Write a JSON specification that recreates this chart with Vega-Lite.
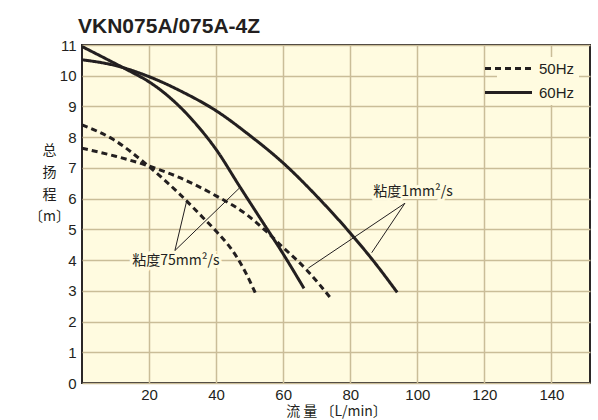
{
  "$schema": "https://vega.github.io/schema/vega-lite/v6.json",
  "width": 508,
  "height": 338,
  "autosize": {"type": "none"},
  "padding": {"left": 82, "top": 45, "right": 8, "bottom": 37},
  "background": "#ffffff",
  "title": {
    "text": "VKN075A/075A-4Z",
    "anchor": "start",
    "frame": "group",
    "font": "Liberation Sans",
    "fontSize": 21,
    "fontWeight": "bold",
    "color": "#231F20",
    "baseline": "bottom",
    "offset": -20,
    "dx": -4
  },
  "config": {
    "view": {"fill": "#FFFBE0", "stroke": "#2b2727", "strokeWidth": 2},
    "axis": {
      "domain": false,
      "ticks": false,
      "labelOverlap": false,
      "grid": true,
      "gridColor": "#CABD98",
      "gridWidth": 1.5,
      "gridOpacity": 1,
      "labelFont": "Liberation Sans",
      "labelFontSize": 15,
      "labelColor": "#231F20",
      "titleFont": "Noto Sans CJK SC",
      "titleFontSize": 14,
      "titleFontWeight": "normal",
      "titleColor": "#231F20"
    }
  },
  "datasets": {
    "curves": [
      {"curve": "A", "freq": "60Hz", "Q": 0, "H": 10.95},
      {"curve": "A", "freq": "60Hz", "Q": 7, "H": 10.56},
      {"curve": "A", "freq": "60Hz", "Q": 13.7, "H": 10.18},
      {"curve": "A", "freq": "60Hz", "Q": 20, "H": 9.8},
      {"curve": "A", "freq": "60Hz", "Q": 25, "H": 9.4},
      {"curve": "A", "freq": "60Hz", "Q": 30, "H": 8.9},
      {"curve": "A", "freq": "60Hz", "Q": 35, "H": 8.3},
      {"curve": "A", "freq": "60Hz", "Q": 40, "H": 7.6},
      {"curve": "A", "freq": "60Hz", "Q": 47, "H": 6.4},
      {"curve": "A", "freq": "60Hz", "Q": 53.5, "H": 5.3},
      {"curve": "A", "freq": "60Hz", "Q": 60, "H": 4.2},
      {"curve": "A", "freq": "60Hz", "Q": 66.2, "H": 3.08},
      {"curve": "B", "freq": "60Hz", "Q": 0, "H": 10.52},
      {"curve": "B", "freq": "60Hz", "Q": 10, "H": 10.33},
      {"curve": "B", "freq": "60Hz", "Q": 20, "H": 9.97},
      {"curve": "B", "freq": "60Hz", "Q": 30, "H": 9.47},
      {"curve": "B", "freq": "60Hz", "Q": 40, "H": 8.86},
      {"curve": "B", "freq": "60Hz", "Q": 50, "H": 8.06},
      {"curve": "B", "freq": "60Hz", "Q": 60, "H": 7.16},
      {"curve": "B", "freq": "60Hz", "Q": 70, "H": 6.08},
      {"curve": "B", "freq": "60Hz", "Q": 80, "H": 4.88},
      {"curve": "B", "freq": "60Hz", "Q": 87, "H": 3.96},
      {"curve": "B", "freq": "60Hz", "Q": 94, "H": 2.95},
      {"curve": "C", "freq": "50Hz", "Q": 0, "H": 7.64},
      {"curve": "C", "freq": "50Hz", "Q": 10, "H": 7.38},
      {"curve": "C", "freq": "50Hz", "Q": 19.7, "H": 7.07},
      {"curve": "C", "freq": "50Hz", "Q": 29.2, "H": 6.68},
      {"curve": "C", "freq": "50Hz", "Q": 40, "H": 6.09},
      {"curve": "C", "freq": "50Hz", "Q": 49, "H": 5.49},
      {"curve": "C", "freq": "50Hz", "Q": 55, "H": 4.93},
      {"curve": "C", "freq": "50Hz", "Q": 59.5, "H": 4.46},
      {"curve": "C", "freq": "50Hz", "Q": 67, "H": 3.68},
      {"curve": "C", "freq": "50Hz", "Q": 74.4, "H": 2.73},
      {"curve": "D", "freq": "50Hz", "Q": 0, "H": 8.4},
      {"curve": "D", "freq": "50Hz", "Q": 9.25, "H": 7.93},
      {"curve": "D", "freq": "50Hz", "Q": 19.7, "H": 7.07},
      {"curve": "D", "freq": "50Hz", "Q": 29.2, "H": 6.14},
      {"curve": "D", "freq": "50Hz", "Q": 36.1, "H": 5.38},
      {"curve": "D", "freq": "50Hz", "Q": 40.1, "H": 4.93},
      {"curve": "D", "freq": "50Hz", "Q": 46.1, "H": 4.11},
      {"curve": "D", "freq": "50Hz", "Q": 49, "H": 3.55},
      {"curve": "D", "freq": "50Hz", "Q": 52.1, "H": 2.83}
    ],
    "leaders": [
      {"grp": "v75a", "Q": 27.7, "H": 4.31},
      {"grp": "v75a", "Q": 31.3, "H": 5.96},
      {"grp": "v75b", "Q": 27.7, "H": 4.31},
      {"grp": "v75b", "Q": 46.9, "H": 6.34},
      {"grp": "v1a", "Q": 96.3, "H": 5.85},
      {"grp": "v1a", "Q": 67.5, "H": 3.74},
      {"grp": "v1b", "Q": 96.3, "H": 5.85},
      {"grp": "v1b", "Q": 86.4, "H": 4.24}
    ],
    "labels": [
      {"label": "粘度75mm²/s", "Q": 28.0, "H": 3.97},
      {"label": "粘度1mm²/s", "Q": 98.7, "H": 6.22}
    ]
  },
  "encoding": {
    "x": {
      "field": "Q", "type": "quantitative",
      "scale": {"domain": [0, 151.5], "nice": false},
      "axis": {
        "values": [20, 40, 60, 80, 100, 120, 140],
        "labelPadding": 4,
        "title": "流 量 〔L/min〕",
        "titlePadding": 2,
        "titleFontSize": 14
      }
    },
    "y": {
      "field": "H", "type": "quantitative",
      "scale": {"domain": [0, 11], "nice": false},
      "axis": {
        "tickCount": 12,
        "labelOverlap": false,
        "grid": true,
        "gridColor": "#CABD98",
        "gridWidth": 1.5,
        "labelPadding": 6,
        "title": ["总", "扬", "程", "〔m〕"],
        "titleAngle": 0,
        "titleAlign": "center",
        "titleBaseline": "top",
        "titleLineHeight": 22,
        "titleX": -33,
        "titleY": 98
      }
    }
  },
  "layer": [
    {
      "data": {"name": "curves"},
      "mark": {"type": "line", "interpolate": "monotone", "color": "#231F20", "strokeWidth": 3, "strokeCap": "butt", "clip": true},
      "encoding": {
        "detail": {"field": "curve"},
        "strokeDash": {
          "field": "freq", "type": "nominal",
          "scale": {"domain": ["50Hz", "60Hz"], "range": [[6, 4], [1, 0]]},
          "legend": {
            "orient": "none",
            "legendX": 415,
            "legendY": 12,
            "title": null,
            "symbolType": "M-4.7,0H4.7",
            "symbolSize": 100,
            "symbolStrokeWidth": 3,
            "symbolStrokeColor": "#231F20",
            "labelFont": "Liberation Sans",
            "labelFontSize": 15,
            "labelColor": "#231F20",
            "labelOffset": 23,
            "rowPadding": 8,
            "fillColor": "#FFFBE0",
            "padding": 4
          }
        }
      }
    },
    {
      "data": {"name": "leaders"},
      "mark": {"type": "line", "color": "#231F20", "strokeWidth": 1},
      "encoding": {
        "detail": {"field": "grp"}
      }
    },
    {
      "data": {"name": "labels"},
      "mark": {"type": "text", "font": "Noto Sans CJK SC", "fontSize": 14, "stroke": "#FFFBE0", "strokeWidth": 6, "fill": "#FFFBE0", "align": "center", "baseline": "middle"},
      "encoding": {
        "text": {"field": "label"}
      }
    },
    {
      "data": {"name": "labels"},
      "mark": {"type": "text", "font": "Noto Sans CJK SC", "fontSize": 14, "color": "#231F20", "align": "center", "baseline": "middle"},
      "encoding": {
        "text": {"field": "label"}
      }
    }
  ]
}
